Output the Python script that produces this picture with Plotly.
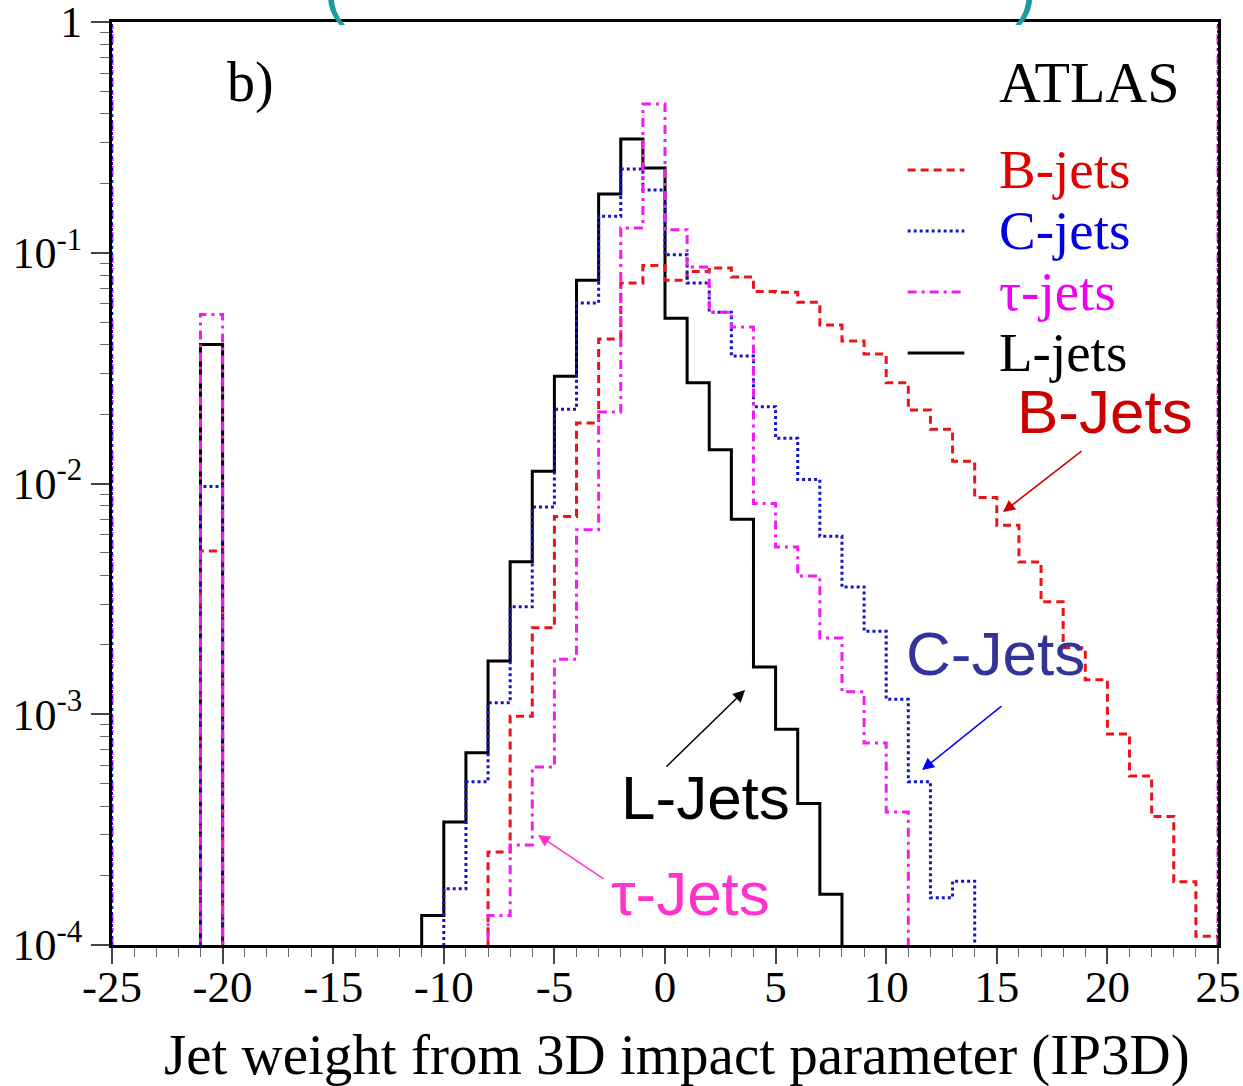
import plotly.graph_objects as go

# ---------------- data ----------------
bin_edges = list(range(-25, 26))          # 1-unit bins from -25 to 25
x_tick_vals = [-25, -20, -15, -10, -5, 0, 5, 10, 15, 20, 25]
x_tick_text = ["-25", "-20", "-15", "-10", "-5", "0", "5", "10", "15", "20", "25"]
y_tick_vals = [1e-4, 1e-3, 1e-2, 1e-1, 1]
y_tick_text = ["10<sup>-4</sup>", "10<sup>-3</sup>", "10<sup>-2</sup>", "10<sup>-1</sup>", "1"]

spike_bin = -21                            # isolated bin [-21, -20]

b_start = -8
b_main = [2.53e-4, 9.8e-4, 2.37e-3, 7.2e-3, 1.83e-2, 4.23e-2, 7.4e-2, 8.8e-2,
          7.6e-2, 8.3e-2, 8.6e-2, 7.85e-2, 6.8e-2, 6.75e-2, 6.1e-2, 4.86e-2,
          4.15e-2, 3.64e-2, 2.73e-2, 2.08e-2, 1.72e-2, 1.25e-2, 8.7e-3, 6.6e-3,
          4.57e-3, 3.07e-3, 1.94e-3, 1.41e-3, 8.2e-4, 5.4e-4, 3.6e-4, 1.88e-4,
          1.09e-4]
b_spike = 5.1e-3

c_start = -10
c_main = [1.75e-4, 5.1e-4, 1.12e-3, 2.92e-3, 7.9e-3, 2.1e-2, 6.06e-2, 0.144,
          0.231, 0.187, 9.8e-2, 7.4e-2, 5.53e-2, 3.57e-2, 2.15e-2, 1.57e-2,
          1.04e-2, 5.9e-3, 3.56e-3, 2.29e-3, 1.16e-3, 5.1e-4, 1.6e-4, 1.89e-4]
c_spike = 9.7e-3

tau_start = -8
tau_main = [1.34e-4, 2.71e-4, 5.9e-4, 1.73e-3, 6.3e-3, 2.04e-2, 0.128, 0.441,
            0.126, 8.67e-2, 5.53e-2, 4.77e-2, 8.2e-3, 5.3e-3, 3.97e-3, 2.14e-3,
            1.25e-3, 7.5e-4, 3.77e-4]
tau_spike = 5.4e-2

l_start = -11
l_main = [1.34e-4, 3.41e-4, 6.8e-4, 1.7e-3, 4.58e-3, 1.13e-2, 2.92e-2, 7.6e-2,
          0.18, 0.311, 0.233, 5.2e-2, 2.73e-2, 1.4e-2, 7.0e-3, 1.6e-3, 8.6e-4,
          4.1e-4, 1.66e-4]
l_spike = 4.0e-2

# ---------------- helpers ----------------
FLOOR = 1e-7   # empty bins (below the visible range on the log axis)


def hist_values(start, main, spike):
    vals = [FLOOR] * (len(bin_edges) - 1)
    vals[spike_bin - bin_edges[0]] = spike
    for i, v in enumerate(main):
        vals[start - bin_edges[0] + i] = v
    return vals + [FLOOR]


SERIF = "Liberation Serif, Times New Roman, serif"
SANS = "Liberation Sans, Arial, sans-serif"

C_B = "#e8141a"
C_C = "#1414c8"
C_T = "#f01cf0"
C_L = "#000000"

series = [
    ("L-jets", l_start, l_main, l_spike, C_L, "solid"),
    ("B-jets", b_start, b_main, b_spike, C_B, "8px,5px"),
    ("C-jets", c_start, c_main, c_spike, C_C, "3px,3px"),
    ("τ-jets", tau_start, tau_main, tau_spike, C_T, "9px,5px,3px,5px"),
]

fig = go.Figure()
for name, st, mn, sp, col, dash in series:
    fig.add_trace(go.Scatter(
        x=bin_edges, y=hist_values(st, mn, sp), mode="lines", name=name,
        line=dict(shape="hv", color=col, width=3, dash=dash),
        showlegend=False, hoverinfo="skip"))

# coloured vertical edges at x=-25 and x=25 (histogram frames)
for xe in (-25, 25):
    fig.add_shape(type="line", xref="x", yref="paper", x0=xe, x1=xe, y0=0, y1=1,
                  line=dict(color=C_T, width=3, dash="9px,5px,3px,5px"), layer="above")
    fig.add_shape(type="line", xref="x", yref="paper", x0=xe, x1=xe, y0=0, y1=1,
                  line=dict(color=C_C, width=2, dash="3px,3px"), layer="above")

# manual legend
leg = [("B-jets", C_B, "8px,5px", 0.8397, "#e00000"),
       ("C-jets", C_C, "3px,3px", 0.7736, "#0000e0"),
       ("τ-jets", C_T, "9px,5px,3px,5px", 0.7075, "#f000f0"),
       ("L-jets", C_L, "solid", 0.6414, "#000000")]
for txt, col, dash, yy, tcol in leg:
    fig.add_shape(type="line", xref="paper", yref="paper", x0=0.7194, x1=0.7707,
                  y0=yy, y1=yy, line=dict(color=col, width=3, dash=dash))
    fig.add_annotation(xref="paper", yref="paper", x=0.8004, y=yy, text=txt,
                       showarrow=False, xanchor="left", yanchor="middle",
                       font=dict(family=SERIF, size=55, color=tcol))

fig.add_annotation(xref="paper", yref="paper", x=0.8004, y=0.934, text="ATLAS",
                   showarrow=False, xanchor="left", yanchor="middle",
                   font=dict(family=SERIF, size=58, color="black"))
fig.add_annotation(xref="paper", yref="paper", x=0.1025, y=0.934, text="b)",
                   showarrow=False, xanchor="left", yanchor="middle",
                   font=dict(family=SERIF, size=56, color="black"))

# x-axis title
fig.add_annotation(xref="paper", yref="paper", x=0.511, y=-0.119,
                   text="Jet weight from 3D impact parameter (IP3D)",
                   showarrow=False, xanchor="center", yanchor="middle",
                   font=dict(family=SERIF, size=57, color="black"))

# callout labels with arrows
callouts = [
    ("B-Jets", "#cc0000", "#cc0000", 19.9, -1.69, 15.28, -2.124, 18.9, -1.855),
    ("C-Jets", "#333399", "#0000ff", 14.92, -2.735, 11.62, -3.242, 15.28, -2.96),
    ("L-Jets", "#000000", "#000000", 1.81, -3.359, 3.62, -2.895, 0.0, -3.233),
    ("τ-Jets", "#ff33cc", "#ff33cc", 1.13, -3.775, -5.74, -3.523, -2.71, -3.718),
]
for txt, col, acol, tx, ty, hx, hy, ax_, ay_ in callouts:
    fig.add_annotation(x=tx, y=ty, text=txt, showarrow=False,
                       font=dict(family=SANS, size=62, color=col))
    fig.add_annotation(x=hx, y=hy, ax=ax_, ay=ay_, axref="x", ayref="y",
                       text="", showarrow=True, arrowhead=2, arrowsize=1.6,
                       arrowwidth=1.5, arrowcolor=acol)

# cropped teal title parentheses at the very top
fig.add_annotation(xref="paper", yref="paper", x=0.19, y=1, yshift=-6, text="(",
                   showarrow=False, yanchor="bottom",
                   font=dict(family=SANS, size=64, color="#1a9c9c"))
fig.add_annotation(xref="paper", yref="paper", x=0.837, y=1, yshift=-6, text=")",
                   showarrow=False, yanchor="bottom",
                   font=dict(family=SANS, size=64, color="#1a9c9c"))

fig.update_layout(
    width=1243, height=1086,
    margin=dict(l=112, r=25, t=22, b=141),
    paper_bgcolor="white", plot_bgcolor="white",
    showlegend=False,
    font=dict(family=SERIF, color="black"),
)
fig.update_xaxes(
    range=[-25, 25], tickvals=x_tick_vals, ticktext=x_tick_text,
    automargin=False, ticklabeloverflow="allow",
    ticks="outside", ticklen=16, tickwidth=1.5, tickcolor="#444",
    minor=dict(ticks="outside", dtick=1, ticklen=9, tickwidth=1.2, tickcolor="#666"),
    showline=True, linecolor="black", linewidth=3, mirror=True,
    showgrid=False, zeroline=False,
    ticklabelstandoff=-16,
    tickfont=dict(family=SERIF, size=45, color="black"),
)
fig.update_yaxes(
    type="log", range=[-4.0003, 0.0003], tickvals=y_tick_vals, ticktext=y_tick_text,
    automargin=False, ticklabeloverflow="allow",
    ticks="outside", ticklen=18, tickwidth=1.5, tickcolor="#444",
    minor=dict(ticks="outside", ticklen=9, tickwidth=1.2, tickcolor="#666",
               tickvals=[k * 10.0 ** e for e in range(-4, 0) for k in range(2, 10)]),
    showline=True, linecolor="black", linewidth=3, mirror=True,
    showgrid=False, zeroline=False,
    tickfont=dict(family=SERIF, size=44, color="black"),
)

fig.write_html("out.html", config={"displayModeBar": False},
               post_script="document.body.style.margin='0';document.body.style.overflow='hidden';")
